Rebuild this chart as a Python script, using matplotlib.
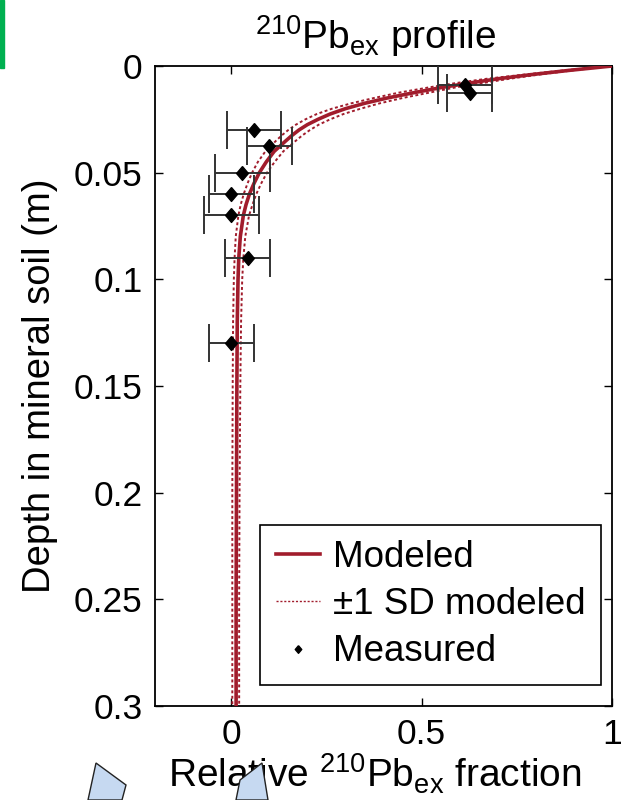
import matplotlib
matplotlib.use("Agg")
import matplotlib.pyplot as plt
from matplotlib.patches import Rectangle, Polygon

plt.rcParams['font.family'] = ['Liberation Sans', 'DejaVu Sans']
plt.rcParams['mathtext.fontset'] = 'custom'
plt.rcParams['mathtext.rm'] = 'Liberation Sans'
plt.rcParams['mathtext.it'] = 'Liberation Sans'

# Measured points
meas_depth = [0.009, 0.0125, 0.030, 0.0374, 0.050, 0.060, 0.070, 0.090, 0.130]
meas_frac = [0.615, 0.626, 0.059, 0.100, 0.029, 0.000, 0.000, 0.044, 0.000]
meas_err = [0.071, 0.060, 0.071, 0.059, 0.072, 0.059, 0.072, 0.059, 0.059]

# Modeled profile
model_depth = [0.000, 0.002, 0.004, 0.006, 0.008, 0.010, 0.0125, 0.015, 0.0175,
               0.020, 0.0225, 0.025, 0.0275, 0.030, 0.0325, 0.035, 0.040, 0.045,
               0.050, 0.055, 0.060, 0.065, 0.070, 0.080, 0.090, 0.100, 0.120,
               0.150, 0.200, 0.250, 0.300]
model_frac = [1.000, 0.890, 0.790, 0.700, 0.625, 0.555, 0.480, 0.410, 0.350,
              0.300, 0.260, 0.228, 0.200, 0.178, 0.160, 0.144, 0.113, 0.092,
              0.074, 0.060, 0.048, 0.039, 0.032, 0.024, 0.020, 0.018, 0.016,
              0.015, 0.014, 0.013, 0.013]
model_upper = [1.000, 0.900, 0.810, 0.730, 0.660, 0.590, 0.520, 0.450, 0.390,
               0.340, 0.295, 0.260, 0.230, 0.207, 0.187, 0.170, 0.137, 0.114,
               0.094, 0.079, 0.066, 0.056, 0.047, 0.037, 0.032, 0.029, 0.026,
               0.024, 0.022, 0.021, 0.021]
model_lower = [1.000, 0.875, 0.770, 0.670, 0.590, 0.520, 0.440, 0.375, 0.315,
               0.265, 0.225, 0.195, 0.170, 0.150, 0.133, 0.118, 0.090, 0.070,
               0.055, 0.043, 0.033, 0.025, 0.019, 0.012, 0.009, 0.007, 0.005,
               0.004, 0.003, 0.003, 0.003]

xticks = [0, 0.5, 1]
xticklabels = ['0', '0.5', '1']
yticks = [0, 0.05, 0.1, 0.15, 0.2, 0.25, 0.3]
yticklabels = ['0', '0.05', '0.1', '0.15', '0.2', '0.25', '0.3']

red = '#a11c2c'
W, H = 629, 800
fig = plt.figure(figsize=(W / 100, H / 100), dpi=100)
ax = fig.add_axes([155 / W, 1 - 706 / H, (612 - 155) / W, (706 - 66) / H])

dot = (0, (1.5, 1.3))
ax.plot(model_upper, model_depth, color=red, lw=1.4, ls=dot, zorder=2)
ax.plot(model_lower, model_depth, color=red, lw=1.4, ls=dot, zorder=2)
ax.plot(model_frac, model_depth, color=red, lw=2.6, zorder=3, label='Modeled')
ax.plot([], [], color=red, lw=1.0, ls=dot, label='\u00b11 SD modeled')

diamond = [(0, 1), (0.85, 0), (0, -1), (-0.85, 0), (0, 1)]
ax.errorbar(meas_frac, meas_depth, xerr=meas_err, fmt='none', ecolor='#333333',
            elinewidth=1.4, capsize=14, capthick=1.4, zorder=4)
ax.plot(meas_frac, meas_depth, ls='none', marker=diamond, ms=10, color='black',
        zorder=5, label='Measured')

ax.set_xlim(-0.2, 1)
ax.set_ylim(0.3, 0)
ax.set_xticks(xticks)
ax.set_xticklabels(xticklabels)
ax.set_yticks(yticks)
ax.set_yticklabels(yticklabels)
ax.tick_params(direction='in', length=6, width=1, top=True, right=True,
               labelsize=25.5, pad=9)
for s in ax.spines.values():
    s.set_linewidth(1.3)

ax.set_xlabel('Relative $^{210}$Pb$_{\\mathrm{ex}}$ fraction', fontsize=28, labelpad=0, x=0.482)
ax.set_ylabel('Depth in mineral soil (m)', fontsize=27.5, labelpad=11)
ax.set_title('$^{210}$Pb$_{\\mathrm{ex}}$ profile', fontsize=28, pad=12, x=0.482)

leg = ax.legend(loc='lower right', bbox_to_anchor=(0.976, 0.033), fontsize=26.5,
                frameon=True, fancybox=False, edgecolor='black', framealpha=1,
                handlelength=1.2, handletextpad=0.35, borderpad=0.42,
                labelspacing=0.33, markerscale=0.55, borderaxespad=0)
leg.get_frame().set_linewidth(1.2)

# decorations outside chart
fig.patches.append(Rectangle((0, 1 - 68 / H), 4 / W, 68 / H, transform=fig.transFigure,
                             color='#00b050', zorder=0))
fig.patches.append(Polygon([(88 / W, 0), (96 / W, 1 - 763 / H), (126 / W, 1 - 785 / H), (122 / W, 0)],
                           closed=True, transform=fig.transFigure, facecolor='#c6d9f1',
                           edgecolor='#222222', lw=1))
fig.patches.append(Polygon([(236 / W, 0), (240 / W, 1 - 780 / H), (262 / W, 1 - 763 / H), (268 / W, 0)],
                           closed=True, transform=fig.transFigure, facecolor='#c6d9f1',
                           edgecolor='#222222', lw=1))

fig.savefig('out.png', dpi=100)
